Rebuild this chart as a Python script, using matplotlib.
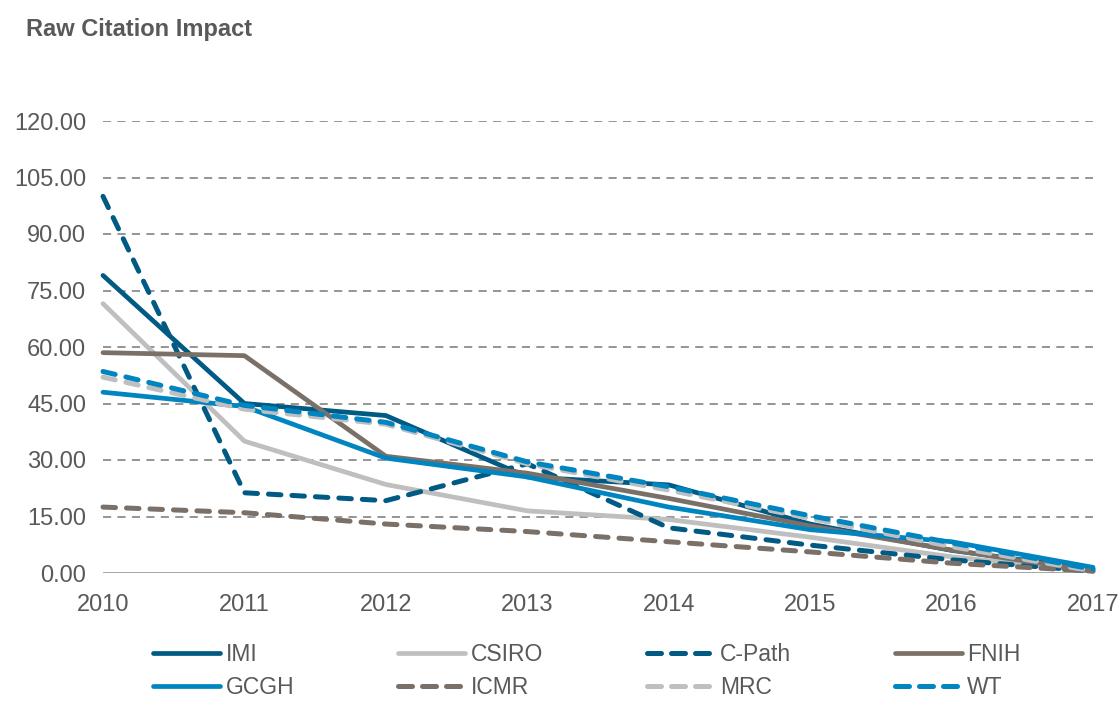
import numpy as np
import matplotlib
matplotlib.use("Agg")
import matplotlib.pyplot as plt

plt.rcParams['font.family'] = ['Liberation Sans', 'DejaVu Sans']

# data
years = [2010, 2011, 2012, 2013, 2014, 2015, 2016, 2017]
imi = [79.0, 45.0, 41.8, 25.5, 23.4, 13.0, 6.0, 1.0]
csiro = [71.5, 35.0, 23.5, 16.5, 14.2, 9.5, 4.3, 0.5]
cpath = [100.0, 21.3, 19.2, 29.0, 12.0, 7.4, 3.5, 0.5]
fnih = [58.5, 57.7, 31.0, 26.5, 19.8, 12.5, 6.1, 0.5]
gcgh = [48.0, 44.2, 30.5, 25.5, 17.5, 11.5, 8.3, 1.5]
icmr = [17.5, 16.0, 13.0, 11.0, 8.3, 5.6, 2.6, 0.5]
mrc = [52.0, 43.5, 39.5, 29.0, 22.0, 14.5, 7.0, 0.5]
wt = [53.5, 44.5, 40.0, 29.5, 22.9, 15.2, 8.0, 1.0]

names = ['IMI', 'CSIRO', 'C-Path', 'FNIH', 'GCGH', 'ICMR', 'MRC', 'WT']
series = [imi, csiro, cpath, fnih, gcgh, icmr, mrc, wt]
colors = ['#005A84', '#BFBFBF', '#005A84', '#7A7068',
          '#0085C1', '#7A7068', '#BFBFBF', '#0085C1']
dashed = [False, False, True, False, False, True, True, True]

yticks = np.arange(0, 121, 15)
text_col = '#595959'
grid_col = '#8C8C8C'

fig = plt.figure(figsize=(11.2, 7.01), dpi=100)
ax = fig.add_axes([103 / 1120, 1 - 573 / 701, (1093 - 103) / 1120, (573 - 121) / 701])

handles = {}
for name, vals, c, d in zip(names, series, colors, dashed):
    if d:
        ln, = ax.plot(years, vals, color=c, lw=3.6, label=name,
                      dashes=(2.5, 2.2), dash_capstyle='round')
    else:
        ln, = ax.plot(years, vals, color=c, lw=3.4, label=name,
                      solid_capstyle='round')
    ln.set_clip_on(False)
    handles[name] = ln

ax.set_xlim(2010, 2017)
ax.set_ylim(0, 120)
ax.set_yticks(yticks)
ax.set_yticklabels([f'{v:.2f}' for v in yticks])
ax.set_xticks(years)

for v in yticks[1:]:
    ax.axhline(v, color=grid_col, lw=1.3, dashes=(4.5, 3.5), zorder=0)
ax.axhline(0, color=grid_col, lw=1.8, zorder=0.5)

for s in ax.spines.values():
    s.set_visible(False)
ax.tick_params(length=0, labelsize=17, colors=text_col)
ax.tick_params(axis='y', pad=12)
ax.tick_params(axis='x', pad=15)

fig.text(26 / 1120, 1 - 18 / 701, 'Raw Citation Impact', fontsize=17,
         fontweight='bold', color=text_col, va='top', ha='left')

# legend fills column-wise, so order entries to read row-wise like the original
order = ['IMI', 'GCGH', 'CSIRO', 'ICMR', 'C-Path', 'MRC', 'FNIH', 'WT']
leg = fig.legend([handles[n] for n in order], order, ncol=4, loc='upper left',
                 bbox_to_anchor=(153 / 1120, 1 - 643 / 701), frameon=False,
                 fontsize=16.5, handlelength=2.93, handletextpad=0.25,
                 columnspacing=4.52, labelspacing=0.45, borderpad=0,
                 borderaxespad=0)
for t in leg.get_texts():
    t.set_color(text_col)
# three even dashes per dashed legend key, as in the original
for n, lh in zip(order, leg.legend_handles):
    if dashed[names.index(n)]:
        lh.set_dashes((2.8, 2.0))

fig.savefig('out.png', dpi=100)
